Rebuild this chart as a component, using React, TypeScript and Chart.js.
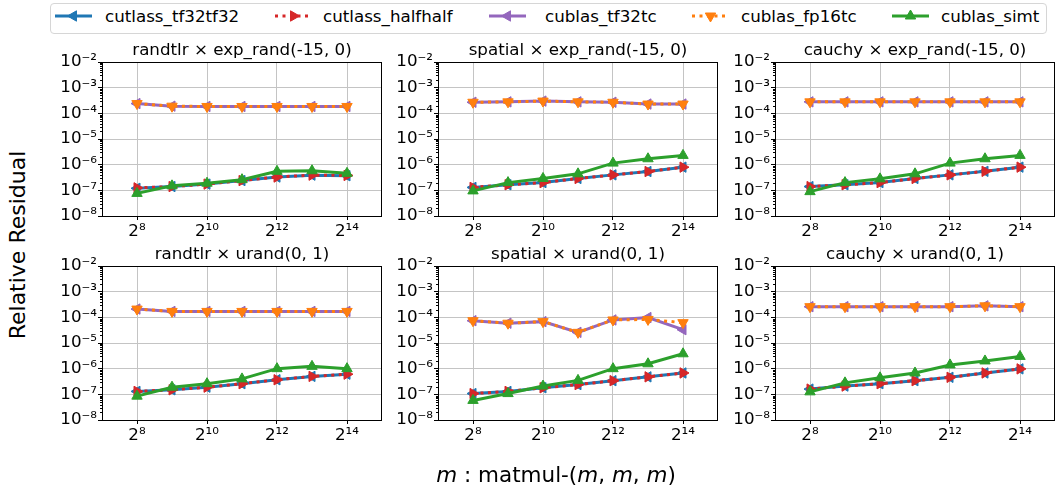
import React, { useEffect, useRef } from "react";
import { Chart, registerables } from "chart.js";

Chart.register(...registerables);

const FONT = "'DejaVu Sans', 'Noto Sans', sans-serif";
Chart.defaults.font.family = FONT;

// ---------------- data ----------------
const M_VALUES = [256, 512, 1024, 2048, 4096, 8192, 16384];
const X_TICKS = [256, 1024, 4096, 16384];
const X_TICK_LABELS = ["2⁸", "2¹⁰", "2¹²", "2¹⁴"];
const Y_TICKS = [1e-8, 1e-7, 1e-6, 1e-5, 1e-4, 1e-3, 1e-2];
const Y_TICK_LABELS = ["10⁻⁸", "10⁻⁷", "10⁻⁶", "10⁻⁵", "10⁻⁴", "10⁻³", "10⁻²"];

const SERIES_NAMES = ["cutlass_tf32tf32", "cutlass_halfhalf", "cublas_tf32tc", "cublas_fp16tc", "cublas_simt"];

const PANEL_TITLES = [
  "randtlr × exp_rand(-15, 0)",
  "spatial × exp_rand(-15, 0)",
  "cauchy × exp_rand(-15, 0)",
  "randtlr × urand(0, 1)",
  "spatial × urand(0, 1)",
  "cauchy × urand(0, 1)",
];

// panel 1: randtlr x exp_rand
const P1_CUTLASS_TF32 = [1.2e-7, 1.4e-7, 1.75e-7, 2.4e-7, 3.3e-7, 3.9e-7, 3.7e-7];
const P1_CUTLASS_HALF = [1.25e-7, 1.4e-7, 1.75e-7, 2.4e-7, 3.3e-7, 3.9e-7, 3.8e-7];
const P1_CUBLAS_TF32TC = [2.4e-4, 1.9e-4, 1.85e-4, 1.85e-4, 1.85e-4, 1.85e-4, 1.85e-4];
const P1_CUBLAS_FP16TC = [2.4e-4, 1.9e-4, 1.85e-4, 1.85e-4, 1.85e-4, 1.85e-4, 1.85e-4];
const P1_CUBLAS_SIMT = [7.6e-8, 1.5e-7, 1.9e-7, 2.6e-7, 5.5e-7, 5.8e-7, 4.6e-7];

// panel 2: spatial x exp_rand
const P2_CUTLASS_TF32 = [1.3e-7, 1.65e-7, 2.0e-7, 2.9e-7, 4.0e-7, 5.4e-7, 8.0e-7];
const P2_CUTLASS_HALF = [1.3e-7, 1.65e-7, 2.0e-7, 2.9e-7, 4.0e-7, 5.4e-7, 8.0e-7];
const P2_CUBLAS_TF32TC = [2.7e-4, 2.8e-4, 3.0e-4, 2.8e-4, 2.7e-4, 2.3e-4, 2.3e-4];
const P2_CUBLAS_FP16TC = [2.7e-4, 2.8e-4, 3.0e-4, 2.8e-4, 2.7e-4, 2.3e-4, 2.3e-4];
const P2_CUBLAS_SIMT = [9.5e-8, 2.0e-7, 2.9e-7, 4.4e-7, 1.15e-6, 1.7e-6, 2.3e-6];

// panel 3: cauchy x exp_rand
const P3_CUTLASS_TF32 = [1.4e-7, 1.65e-7, 2.0e-7, 2.9e-7, 4.0e-7, 5.5e-7, 8.0e-7];
const P3_CUTLASS_HALF = [1.4e-7, 1.65e-7, 2.0e-7, 2.9e-7, 4.0e-7, 5.5e-7, 8.0e-7];
const P3_CUBLAS_TF32TC = [2.8e-4, 2.8e-4, 2.8e-4, 2.8e-4, 2.8e-4, 2.8e-4, 2.8e-4];
const P3_CUBLAS_FP16TC = [2.8e-4, 2.8e-4, 2.8e-4, 2.8e-4, 2.8e-4, 2.8e-4, 2.8e-4];
const P3_CUBLAS_SIMT = [8.9e-8, 2.0e-7, 2.8e-7, 4.4e-7, 1.15e-6, 1.7e-6, 2.3e-6];

// panel 4: randtlr x urand
const P4_CUTLASS_TF32 = [1.3e-7, 1.5e-7, 1.9e-7, 2.6e-7, 3.7e-7, 5.0e-7, 6.1e-7];
const P4_CUTLASS_HALF = [1.3e-7, 1.5e-7, 1.9e-7, 2.6e-7, 3.7e-7, 5.0e-7, 6.1e-7];
const P4_CUBLAS_TF32TC = [2.1e-4, 1.7e-4, 1.7e-4, 1.7e-4, 1.7e-4, 1.7e-4, 1.7e-4];
const P4_CUBLAS_FP16TC = [2.1e-4, 1.7e-4, 1.7e-4, 1.7e-4, 1.7e-4, 1.7e-4, 1.7e-4];
const P4_CUBLAS_SIMT = [8.5e-8, 1.9e-7, 2.6e-7, 4.0e-7, 1.0e-6, 1.23e-6, 1.0e-6];

// panel 5: spatial x urand
const P5_CUTLASS_TF32 = [1.07e-7, 1.3e-7, 1.8e-7, 2.4e-7, 3.4e-7, 4.8e-7, 6.8e-7];
const P5_CUTLASS_HALF = [1.07e-7, 1.3e-7, 1.8e-7, 2.4e-7, 3.4e-7, 4.8e-7, 6.8e-7];
const P5_CUBLAS_TF32TC = [7.4e-5, 5.9e-5, 6.8e-5, 2.6e-5, 7.9e-5, 9.8e-5, 3.3e-5];
const P5_CUBLAS_FP16TC = [7.4e-5, 5.9e-5, 6.8e-5, 2.6e-5, 7.9e-5, 8.3e-5, 6.2e-5];
const P5_CUBLAS_SIMT = [5.8e-8, 1.07e-7, 2.1e-7, 3.5e-7, 1.0e-6, 1.55e-6, 3.8e-6];

// panel 6: cauchy x urand
const P6_CUTLASS_TF32 = [1.6e-7, 2.1e-7, 2.6e-7, 3.4e-7, 4.6e-7, 6.8e-7, 9.8e-7];
const P6_CUTLASS_HALF = [1.6e-7, 2.1e-7, 2.6e-7, 3.4e-7, 4.6e-7, 6.8e-7, 9.8e-7];
const P6_CUBLAS_TF32TC = [2.6e-4, 2.6e-4, 2.6e-4, 2.6e-4, 2.6e-4, 2.8e-4, 2.6e-4];
const P6_CUBLAS_FP16TC = [2.6e-4, 2.6e-4, 2.6e-4, 2.6e-4, 2.6e-4, 2.8e-4, 2.6e-4];
const P6_CUBLAS_SIMT = [1.25e-7, 2.8e-7, 4.4e-7, 6.8e-7, 1.4e-6, 2.0e-6, 3.0e-6];

const PANEL_SERIES = [
  [P1_CUTLASS_TF32, P1_CUTLASS_HALF, P1_CUBLAS_TF32TC, P1_CUBLAS_FP16TC, P1_CUBLAS_SIMT],
  [P2_CUTLASS_TF32, P2_CUTLASS_HALF, P2_CUBLAS_TF32TC, P2_CUBLAS_FP16TC, P2_CUBLAS_SIMT],
  [P3_CUTLASS_TF32, P3_CUTLASS_HALF, P3_CUBLAS_TF32TC, P3_CUBLAS_FP16TC, P3_CUBLAS_SIMT],
  [P4_CUTLASS_TF32, P4_CUTLASS_HALF, P4_CUBLAS_TF32TC, P4_CUBLAS_FP16TC, P4_CUBLAS_SIMT],
  [P5_CUTLASS_TF32, P5_CUTLASS_HALF, P5_CUBLAS_TF32TC, P5_CUBLAS_FP16TC, P5_CUBLAS_SIMT],
  [P6_CUTLASS_TF32, P6_CUTLASS_HALF, P6_CUBLAS_TF32TC, P6_CUBLAS_FP16TC, P6_CUBLAS_SIMT],
];

// ---------------- styles / layout ----------------
const SERIES_STYLES = [
  { color: "#1f77b4", dash: [] as number[], rotation: 270, order: 4 },
  { color: "#d62728", dash: [3, 4.5], rotation: 90, order: 3 },
  { color: "#9467bd", dash: [] as number[], rotation: 270, order: 2 },
  { color: "#ff7f0e", dash: [3, 4.5], rotation: 180, order: 1 },
  { color: "#2ca02c", dash: [] as number[], rotation: 0, order: 0 },
];

const PANEL_LEFTS = [102, 438, 775];
const PANEL_TOPS = [62, 266];
const PLOT_W = 283;
const PLOT_H = 154;
const Y_AXIS_W = 62;
const TITLE_H = 25;
const X_AXIS_H = 32;
const RIGHT_PAD = 4;
const TICK_FONT = { family: FONT, size: 16.7 };

const LEGEND_LINE_X = [55, 275, 489, 692, 892];
const LEGEND_TEXT_X = [105, 323, 545, 741, 941];

const framePlugin = {
  id: "frame",
  afterDatasetsDraw(chart: any) {
    const { ctx, chartArea } = chart;
    const { left, top, right, bottom } = chartArea;
    ctx.save();
    ctx.strokeStyle = "#000";
    ctx.lineWidth = 1;
    ctx.setLineDash([]);
    ctx.strokeRect(Math.round(left) + 0.5, Math.round(top) + 0.5, Math.round(right - left) - 1, Math.round(bottom - top));
    const ys = chart.scales.y;
    ctx.beginPath();
    for (let d = -8; d < -2; d++) {
      for (let k = 2; k <= 9; k++) {
        const py = Math.round(ys.getPixelForValue(k * Math.pow(10, d))) + 0.5;
        ctx.moveTo(Math.round(left) - 2, py);
        ctx.lineTo(Math.round(left), py);
      }
    }
    ctx.stroke();
    ctx.restore();
  },
};

function Panel({ index }: { index: number }) {
  const ref = useRef<HTMLCanvasElement>(null);
  const col = index % 3;
  const row = Math.floor(index / 3);
  const left = PANEL_LEFTS[col];
  const top = PANEL_TOPS[row];
  const width = Y_AXIS_W + PLOT_W + RIGHT_PAD;
  const height = TITLE_H + PLOT_H + X_AXIS_H;

  useEffect(() => {
    if (!ref.current) return;
    const series = PANEL_SERIES[index];
    const chart = new Chart(ref.current, {
      type: "line",
      data: {
        datasets: SERIES_NAMES.map((name, i) => {
          const st = SERIES_STYLES[i];
          return {
            label: name,
            data: M_VALUES.map((m, j) => ({ x: m, y: series[i][j] })),
            borderColor: st.color,
            backgroundColor: st.color,
            pointBackgroundColor: st.color,
            pointBorderColor: st.color,
            pointStyle: "triangle",
            pointRotation: st.rotation,
            pointRadius: 6,
            pointBorderWidth: 1,
            borderWidth: 3,
            borderDash: st.dash,
            borderCapStyle: "butt",
            order: st.order,
            tension: 0,
          } as any;
        }),
      },
      options: {
        animation: false,
        responsive: false,
        devicePixelRatio: 1,
        events: [],
        layout: { padding: { left: 0, top: 0, right: RIGHT_PAD, bottom: 0 } },
        plugins: {
          legend: { display: false },
          tooltip: { enabled: false },
          title: {
            display: true,
            text: PANEL_TITLES[index],
            color: "#000",
            fullSize: false,
            font: { family: FONT, size: 16.7, weight: "normal", lineHeight: "20px" } as any,
            padding: { top: 4, bottom: 1 },
          },
        },
        scales: {
          x: {
            type: "logarithmic",
            min: 128,
            max: 32768,
            afterBuildTicks: (s: any) => {
              s.ticks = X_TICKS.map((v) => ({ value: v }));
            },
            afterFit: (s: any) => {
              s.height = X_AXIS_H;
            },
            ticks: {
              autoSkip: false,
              maxRotation: 0,
              minRotation: 0,
              color: "#000",
              font: TICK_FONT,
              padding: 2,
              callback: (_v: any, i: number) => X_TICK_LABELS[i],
            },
            grid: { color: "#c4c4c4", lineWidth: 1, tickColor: "#000", tickLength: 4, drawTicks: true },
            border: { display: false },
          } as any,
          y: {
            type: "logarithmic",
            min: 1e-8,
            max: 1e-2,
            afterBuildTicks: (s: any) => {
              s.ticks = Y_TICKS.map((v) => ({ value: v }));
            },
            afterFit: (s: any) => {
              s.width = Y_AXIS_W;
            },
            ticks: {
              autoSkip: false,
              color: "#000",
              font: TICK_FONT,
              padding: 1,
              callback: (_v: any, i: number) => Y_TICK_LABELS[i],
            },
            grid: { color: "#c4c4c4", lineWidth: 1, tickColor: "#000", tickLength: 4, drawTicks: true },
            border: { display: false },
          } as any,
        },
      },
      plugins: [framePlugin],
    });
    return () => chart.destroy();
  }, [index]);

  return (
    <canvas
      ref={ref}
      width={width}
      height={height}
      style={{ position: "absolute", left: left - Y_AXIS_W, top: top - TITLE_H, width, height }}
    />
  );
}

function LegendMarker({ i }: { i: number }) {
  const st = SERIES_STYLES[i];
  const cx = 18.5;
  const cy = 7;
  const r = 6;
  const pts = [
    [cx, cy - r],
    [cx + r * 0.866, cy + r * 0.5],
    [cx - r * 0.866, cy + r * 0.5],
  ]
    .map((p) => p.join(","))
    .join(" ");
  return (
    <svg width={38} height={14} style={{ position: "absolute", left: LEGEND_LINE_X[i], top: 9 }}>
      <line
        x1={0}
        y1={cy}
        x2={37}
        y2={cy}
        stroke={st.color}
        strokeWidth={3}
        strokeDasharray={st.dash.length ? st.dash.join(" ") : undefined}
      />
      <polygon points={pts} fill={st.color} stroke={st.color} strokeWidth={1} transform={`rotate(${st.rotation} ${cx} ${cy})`} />
    </svg>
  );
}

function Legend() {
  return (
    <>
      <div
        style={{
          position: "absolute",
          left: 50,
          top: 3,
          width: 997,
          height: 31,
          boxSizing: "border-box",
          border: "1px solid #d6d6d6",
          borderRadius: 4,
          background: "#fff",
        }}
      />
      {SERIES_NAMES.map((name, i) => (
        <React.Fragment key={name}>
          <LegendMarker i={i} />
          <div
            style={{
              position: "absolute",
              left: LEGEND_TEXT_X[i],
              top: 6,
              height: 20,
              lineHeight: "20px",
              fontFamily: FONT,
              fontSize: 16.7,
              color: "#000",
              whiteSpace: "nowrap",
            }}
          >
            {name}
          </div>
        </React.Fragment>
      ))}
    </>
  );
}

export default function App() {
  return (
    <div
      style={{
        position: "absolute",
        left: 0,
        top: 0,
        width: 1058,
        height: 486,
        overflow: "hidden",
        background: "#fff",
      }}
    >
      <Legend />
      {[0, 1, 2, 3, 4, 5].map((i) => (
        <Panel key={i} index={i} />
      ))}
      <div
        style={{
          position: "absolute",
          left: 18,
          top: 245,
          transform: "translate(-50%, -50%) rotate(-90deg)",
          fontFamily: FONT,
          fontSize: 22,
          lineHeight: "24px",
          whiteSpace: "nowrap",
          color: "#000",
        }}
      >
        Relative Residual
      </div>
      <div
        style={{
          position: "absolute",
          left: 556,
          top: 463,
          transform: "translateX(-50%)",
          fontFamily: FONT,
          fontSize: 21.5,
          lineHeight: "24px",
          whiteSpace: "nowrap",
          color: "#000",
        }}
      >
        <i>m</i> : matmul-(<i>m</i>, <i>m</i>, <i>m</i>)
      </div>
    </div>
  );
}
